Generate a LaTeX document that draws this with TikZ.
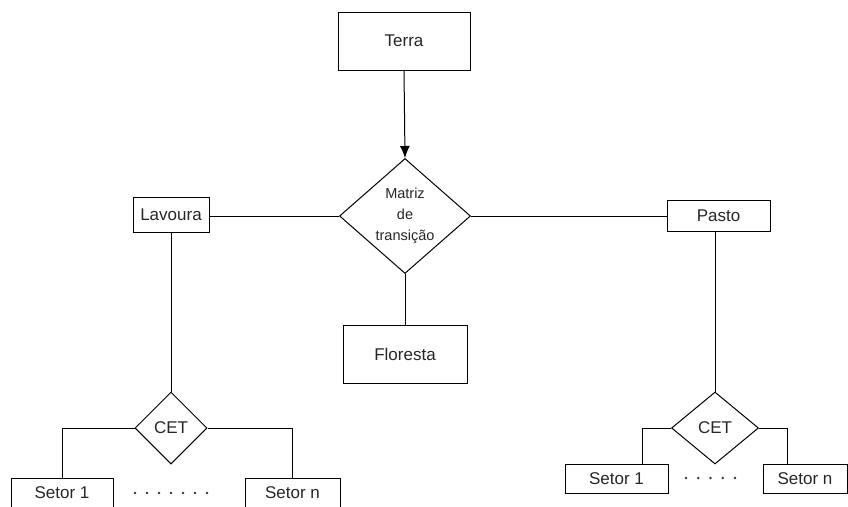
\documentclass[tikz,border=0pt]{standalone}
\usepackage{fontspec}
\setmainfont{Liberation Sans}
\usetikzlibrary{shapes.geometric,arrows.meta}
\begin{document}
\begin{tikzpicture}[x=1pt,y=-1pt,
  every node/.style={font=\fontsize{17}{20}\selectfont, text=black!85},
  box/.style={draw, line width=1pt, rectangle, inner sep=0pt},
  dia/.style={draw, line width=1pt, diamond, inner sep=0pt},
  link/.style={line width=1pt},
  dotmark/.style={fill=black!80}]
\clip (0,0) rectangle (848,506);
\useasboundingbox (0,0) rectangle (848,506);
\node[box, minimum width=132pt, minimum height=58pt] (terra) at (404,41) {Terra};
\node[dia, minimum width=131pt, minimum height=115pt, align=center,
      font=\fontsize{14.5}{21}\selectfont] (mat) at (405,216) {Matriz\\de\\transição};
\node[box, minimum width=76pt, minimum height=35pt] (lav) at (171,215) {Lavoura};
\node[box, minimum width=103pt, minimum height=31pt] (pasto) at (718.5,215.5) {Pasto};
\node[box, minimum width=124pt, minimum height=58pt] (flor) at (405,354) {Floresta};
\node[dia, minimum width=72pt, minimum height=72pt] (cetL) at (171,428) {CET};
\node[dia, minimum width=87pt, minimum height=72pt] (cetR) at (715,428) {CET};
\node[box, minimum width=102pt, minimum height=30pt] (s1L) at (62,493) {Setor 1};
\node[box, minimum width=95pt, minimum height=30pt] (snL) at (292.5,493) {Setor n};
\node[box, minimum width=103pt, minimum height=29pt] (s1R) at (616.5,478.5) {Setor 1};
\node[box, minimum width=84pt, minimum height=29pt] (snR) at (805,478.5) {Setor n};

\draw[link, -{Latex[length=12pt,width=10pt]}] (terra.south) -- (mat.north);
\draw[link] (mat.west) -- (mat.west -| lav.east);
\draw[link] (mat.east) -- (mat.east -| pasto.west);
\draw[link] (mat.south) -- (flor.north);
\draw[link] (lav.south) -- (cetL.north);
\draw[link] (cetR.north) -- (cetR.north |- pasto.south);
\draw[link] (cetL.west) -| (s1L.north);
\draw[link] (cetL.east) -| (snL.north);
\draw[link] (cetR.west) -| ([xshift=25.5pt]s1R.north);
\draw[link] (cetR.east) -| ([xshift=-18pt]snR.north);

\foreach \i in {0,...,6} \fill[dotmark] (135+12*\i,493) circle (1.4pt);
\foreach \i in {0,...,4} \fill[dotmark] (686+12.25*\i,478) circle (1.4pt);
\end{tikzpicture}
\end{document}
